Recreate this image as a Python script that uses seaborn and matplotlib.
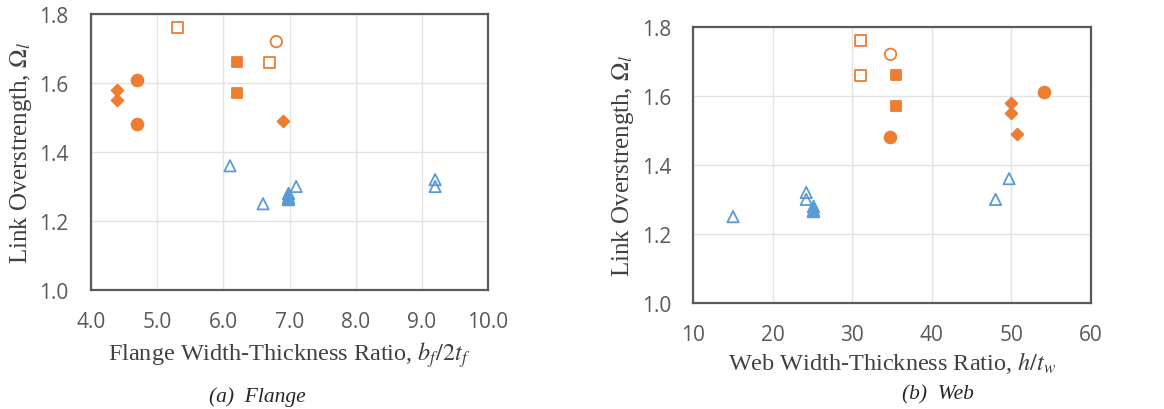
import seaborn as sns
import matplotlib.pyplot as plt
import pandas as pd

sns.set_style("white")
plt.rcParams["mathtext.fontset"] = "stix"

# link overstrength and width-thickness ratios, one list per marker group
omega_open_sq = [1.76, 1.66]
bf_open_sq = [5.3, 6.7]
htw_open_sq = [31.0, 31.0]

omega_open_ci = [1.72]
bf_open_ci = [6.8]
htw_open_ci = [34.8]

omega_sq = [1.66, 1.57]
bf_sq = [6.2, 6.2]
htw_sq = [35.5, 35.5]

omega_ci = [1.61, 1.48]
bf_ci = [4.7, 4.7]
htw_ci = [54.1, 34.7]

omega_dia = [1.58, 1.55, 1.49]
bf_dia = [4.4, 4.4, 6.9]
htw_dia = [50.0, 50.0, 50.7]

omega_open_tri = [1.36, 1.25, 1.30, 1.32, 1.30]
bf_open_tri = [6.1, 6.6, 7.1, 9.2, 9.2]
htw_open_tri = [49.7, 15.0, 48.0, 24.2, 24.2]

omega_tri = [1.28, 1.27, 1.265]
bf_tri = [6.97, 6.97, 6.97]
htw_tri = [25.0, 25.0, 25.0]

orange = "#ED7D31"
blue = "#5B9BD5"

groups = [
    (omega_open_sq, bf_open_sq, htw_open_sq, "s", orange, False, 62),
    (omega_open_ci, bf_open_ci, htw_open_ci, "o", orange, False, 68),
    (omega_sq, bf_sq, htw_sq, "s", orange, True, 62),
    (omega_ci, bf_ci, htw_ci, "o", orange, True, 72),
    (omega_dia, bf_dia, htw_dia, "D", orange, True, 36),
    (omega_open_tri, bf_open_tri, htw_open_tri, "^", blue, False, 66),
    (omega_tri, bf_tri, htw_tri, "^", blue, True, 70),
]

fig = plt.figure(figsize=(11.64, 4.10), dpi=100)
ax1 = fig.add_axes([0.0782, 0.2902, 0.3411, 0.6732])
ax2 = fig.add_axes([0.5956, 0.2585, 0.3417, 0.6740])

tick_grey = "#595959"
label_grey = "#404040"

for ax, col in [(ax1, "bf"), (ax2, "htw")]:
    for omega, bf, htw, mk, c, filled, s in groups:
        df = pd.DataFrame({"omega": omega, "bf": bf, "htw": htw})
        sns.scatterplot(data=df, x=col, y="omega", marker=mk, s=s, color=c,
                        edgecolor=c, linewidth=1.3, ax=ax, zorder=3)
        if not filled:
            ax.collections[-1].set_facecolor("none")
            ax.collections[-1].set_edgecolor(c)
    ax.set_ylim(1.0, 1.8)
    ax.set_yticks([1.0, 1.2, 1.4, 1.6, 1.8])
    ax.set_yticklabels(["1.0", "1.2", "1.4", "1.6", "1.8"])
    ax.grid(True, color="#e3e3e3", linewidth=1.0, zorder=0)
    for sp in ax.spines.values():
        sp.set_color("#5a5a5a")
        sp.set_linewidth(1.6)
    ax.tick_params(length=0, labelsize=15, colors=tick_grey)
    ax.tick_params(axis="y", pad=16)
    ax.tick_params(axis="x", pad=15)
    for t in ax.get_xticklabels() + ax.get_yticklabels():
        t.set_fontfamily("Open Sans")
    ax.set_ylabel(r"Link Overstrength, $\Omega_l$", fontsize=18,
                  family="Liberation Serif", color=label_grey, labelpad=4)

ax1.set_xlim(4.0, 10.0)
ax1.set_xticks([4, 5, 6, 7, 8, 9, 10])
ax1.set_xticklabels(["4.0", "5.0", "6.0", "7.0", "8.0", "9.0", "10.0"],
                    family="Open Sans")
ax1.set_xlabel(r"Flange Width-Thickness Ratio, $b_f/2t_f$", fontsize=17.5,
               family="Liberation Serif", color=label_grey, labelpad=5)

ax2.set_xlim(10, 60)
ax2.set_xticks([10, 20, 30, 40, 50, 60])
ax2.set_xticklabels(["10", "20", "30", "40", "50", "60"], family="Open Sans")
ax2.set_xlabel(r"Web Width-Thickness Ratio, $h/t_w$", fontsize=17.5,
               family="Liberation Serif", color=label_grey, labelpad=3)

fig.text(0.221, 0.032, "(a)  Flange", ha="center", va="center", fontsize=15.5,
         family="Liberation Serif", style="italic", color="#262626")
fig.text(0.806, 0.037, "(b)  Web", ha="center", va="center", fontsize=15.5,
         family="Liberation Serif", style="italic", color="#262626")

fig.savefig("out.png", dpi=100)
